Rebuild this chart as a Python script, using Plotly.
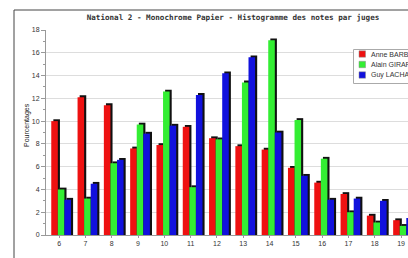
import plotly.graph_objects as go

notes = [6, 7, 8, 9, 10, 11, 12, 13, 14, 15, 16, 17, 18, 19]
juges = ["Anne BARBIER", "Alain GIRARD", "Guy LACHAUD"]
anne = [10.0, 12.1, 11.4, 7.6, 7.9, 9.5, 8.5, 7.8, 7.5, 5.9, 4.6, 3.6, 1.7, 1.3]
alain = [4.0, 3.2, 6.3, 9.7, 12.6, 4.2, 8.4, 13.4, 17.1, 10.1, 6.7, 2.0, 1.1, 0.8]
guy = [3.1, 4.5, 6.6, 8.9, 9.6, 12.3, 14.2, 15.6, 9.0, 5.2, 3.1, 3.2, 3.0, 1.5]
y_ticks = [0, 2, 4, 6, 8, 10, 12, 14, 16, 18]

series = [anne, alain, guy]
colors = ["#ee1111", "#33ee33", "#1111dd"]
offsets = [-0.30, -0.05, 0.20]
bw = 0.25
dx, dy = 0.08, 0.16

W, H = 408, 258
plot_left, plot_top, plot_bottom = 46, 30, 235
L = plot_left
T = plot_top
B = H - plot_bottom
pw = W - L
ph = H - T - B
unit = 26.3
x0 = 5.5
x1 = x0 + pw / unit

fig = go.Figure()
for vals, col, off, name in zip(series, colors, offsets, juges):
    fig.add_trace(go.Bar(
        x=notes, y=[v + dy for v in vals], width=bw, offset=off + dx,
        marker=dict(color="#111111", line=dict(width=0)),
        showlegend=False, hoverinfo="skip"))
    fig.add_trace(go.Bar(
        x=notes, y=vals, width=bw, offset=off, name=name,
        marker=dict(color=col, line=dict(width=0)),
        showlegend=False))

def px_x(p):
    return (p - plot_left) / pw

def px_y(p):
    return (plot_bottom - p) / ph

shapes = [
    dict(type="line", xref="paper", yref="paper", x0=px_x(14), x1=px_x(14),
         y0=px_y(270), y1=px_y(10), line=dict(color="#444444", width=1)),
    dict(type="line", xref="paper", yref="paper", x0=px_x(14), x1=px_x(420),
         y0=px_y(10), y1=px_y(10), line=dict(color="#444444", width=1)),
    dict(type="rect", xref="paper", yref="paper", x0=px_x(353.5), x1=px_x(440),
         y0=px_y(83.5), y1=px_y(49.5), line=dict(color="#aaaaaa", width=1),
         fillcolor="#ffffff", layer="above"),
]
annotations = [
    dict(text="Pourcentages", textangle=-90, xref="paper", yref="paper",
         x=px_x(27), y=px_y(125), xanchor="center", yanchor="middle", showarrow=False,
         font=dict(family="Liberation Sans", size=7, color="#222222")),
]
for i, (name, col) in enumerate(zip(juges, colors)):
    cy = 54 + i * 10.5
    shapes.append(dict(type="rect", xref="paper", yref="paper",
                       x0=px_x(359), x1=px_x(365.5), y0=px_y(cy + 3.2), y1=px_y(cy - 3.2),
                       line=dict(color="#888888", width=0.5), fillcolor=col, layer="above"))
    annotations.append(dict(text=name, xref="paper", yref="paper",
                            x=px_x(369), y=px_y(cy), xanchor="left", yanchor="middle",
                            showarrow=False,
                            font=dict(family="Liberation Sans", size=7, color="#333333")))

fig.update_layout(
    width=W, height=H,
    margin=dict(l=L, r=0, t=T, b=B, autoexpand=False),
    paper_bgcolor="white", plot_bgcolor="white",
    barmode="overlay",
    title=dict(text="<b>National 2 - Monochrome Papier - Histogramme des notes par juges</b>",
               x=233 / W, xanchor="center", y=1 - 17 / H, yanchor="middle",
               font=dict(family="DejaVu Sans Mono", size=7.6, color="#333333")),
    shapes=shapes, annotations=annotations,
    xaxis=dict(range=[x0, x1], tickvals=notes, ticktext=[str(n) for n in notes],
               showgrid=False, zeroline=False, showline=True, linecolor="#999999",
               ticks="outside", ticklen=2, tickcolor="#999999", automargin=False,
               tickfont=dict(family="Liberation Sans", size=7, color="#333333")),
    yaxis=dict(range=[0, 18], tickvals=y_ticks, showgrid=True, gridcolor="#dddddd",
               zeroline=False, showline=True, linecolor="#999999",
               ticks="outside", ticklen=4, tickcolor="#999999", automargin=False,
               minor=dict(dtick=1, ticklen=2, tickcolor="#999999", showgrid=False),
               tickfont=dict(family="Liberation Sans", size=7, color="#333333")),
)

fig.write_html(
    "out.html",
    config={"displayModeBar": False},
    post_script="document.body.style.margin='0';document.body.style.overflow='hidden';",
)
